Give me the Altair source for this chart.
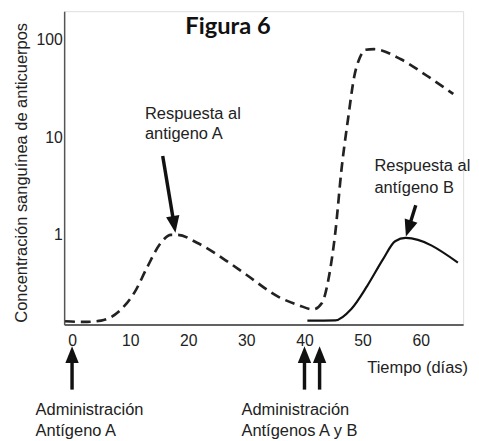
import altair as alt
import pandas as pd

# ---- curves (days, antibody concentration) ----
dias_A = [-1.2, 2, 5, 8, 10.8, 13, 15.3, 17, 18.2, 21.5, 27, 30, 35.6, 39, 41.5, 43, 44.3,
          45.3, 46.4, 47.5, 48.6, 49.5, 50.5, 52, 56.6, 61, 65.6]
conc_A = [0.13, 0.128, 0.132, 0.163, 0.26, 0.475, 0.83, 1.0, 1.0, 0.83, 0.52, 0.39, 0.23,
          0.19, 0.172, 0.2, 0.4, 1.05, 4.86, 15.5, 43, 65, 79, 80, 63, 43, 27.8]
dias_B = [40.5, 45.3, 48.1, 50.8, 53.5, 55.6, 57.4, 66.4]
conc_B = [0.132, 0.133, 0.175, 0.30, 0.56, 0.86, 0.93, 0.52]

# ---- axis ticks ----
x_ticks = [0, 10, 20, 30, 40, 50, 60]
y_ticks = [1, 10, 100]

# ---- annotation texts ----
txt_lines = ["Respuesta al", "antigeno A", "Respuesta al", "antígeno B", "Tiempo (días)",
             "Administración", "Antígeno A", "Administración", "Antígenos A y B"]
txt_x = [12.54, 12.54, 52.03, 52.03, 50.8, -6.27, -6.27, 29.15, 29.15]
txt_y = [17.47, 10.72, 5.09, 3.05, 0.0435, 0.0159, 0.0098, 0.0159, 0.0098]

title_text = ["Figura 6"]
title_x = [19.5]
title_y = [135.3]

# ---- arrows ----
arrow_x = [15.6, 59.15, 0, 40, 42.6]
arrow_y = [6.43, 2.01, 0.0259, 0.0259, 0.0259]
arrow_x2 = [17.56, 57.9, 0, 40, 42.6]
arrow_y2 = [1.28, 1.16, 0.0593, 0.0593, 0.0593]
arrow_angle = [170.7, 197.9, 0, 0, 0]

dfA = pd.DataFrame({"x": dias_A, "y": conc_A})
dfB = pd.DataFrame({"x": dias_B, "y": conc_B})
dfT = pd.DataFrame({"x": txt_x, "y": txt_y, "t": txt_lines})
dfTitle = pd.DataFrame({"x": title_x, "y": title_y, "t": title_text})
dfArr = pd.DataFrame({"x": arrow_x, "y": arrow_y, "x2": arrow_x2, "y2": arrow_y2, "a": arrow_angle})

FONT = "Liberation Sans"
xscale = alt.Scale(domain=[-1.36, 67.3], nice=False, zero=False)
yscale = alt.Scale(type="log", domain=[0.1205, 196], nice=False)

xaxis = alt.Axis(values=x_ticks, title=None, grid=False, ticks=False, labelPadding=8,
                 labelFont=FONT, labelFontSize=16, labelColor="#222", domainColor="#333",
                 domainWidth=1.5, format="d")
yaxis = alt.Axis(values=y_ticks, title="Concentración sanguínea de anticuerpos", grid=False,
                 ticks=False, labelPadding=2, labelFont=FONT, labelFontSize=16,
                 labelColor="#222", domainColor="#555", domainWidth=1.5, format="d",
                 titleFont=FONT, titleFontSize=16.7, titleFontWeight="normal",
                 titleColor="#222", titleAngle=270, titleAlign="center",
                 titleBaseline="middle", titleX=-43, titleY=163.5)

X = alt.X("x:Q", scale=xscale, axis=xaxis)
Y = alt.Y("y:Q", scale=yscale, axis=yaxis)

lineA = alt.Chart(dfA).mark_line(strokeDash=[10, 6], strokeWidth=2.7, color="#222",
                                 interpolate="monotone").encode(x=X, y=Y)
lineB = alt.Chart(dfB).mark_line(strokeWidth=2.2, color="#111",
                                 interpolate="monotone").encode(x=X, y=Y)

shafts = alt.Chart(dfArr).mark_rule(strokeWidth=3.5, color="#111").encode(
    x=X, y=Y, x2="x2:Q", y2="y2:Q")
heads = alt.Chart(dfArr).mark_point(shape="M0,-1L0.8,1L-0.8,1Z", filled=True, size=289,
                                    color="#111", opacity=1, strokeWidth=0).encode(
    x=alt.X("x2:Q", scale=xscale, axis=xaxis), y=alt.Y("y2:Q", scale=yscale, axis=yaxis),
    angle=alt.Angle("a:Q", scale=None))

texts = alt.Chart(dfT).mark_text(align="left", baseline="middle", font=FONT,
                                 fontSize=16.7, color="#222").encode(x=X, y=Y, text="t:N")
title = alt.Chart(dfTitle).mark_text(align="left", baseline="middle", font="Lato",
                                     fontWeight="bold", fontSize=24, color="#111").encode(
    x=X, y=Y, text="t:N")

chart = alt.layer(lineA, lineB, shafts, heads, texts, title).properties(
    width=405, height=318,
    autosize=alt.AutoSizeParams(type="none"),
    padding={"left": 57, "top": 0, "right": 8, "bottom": 115},
).configure_view(stroke=None).configure(background="white")

chart.save("out.html", embed_options={"renderer": "svg", "actions": False})
